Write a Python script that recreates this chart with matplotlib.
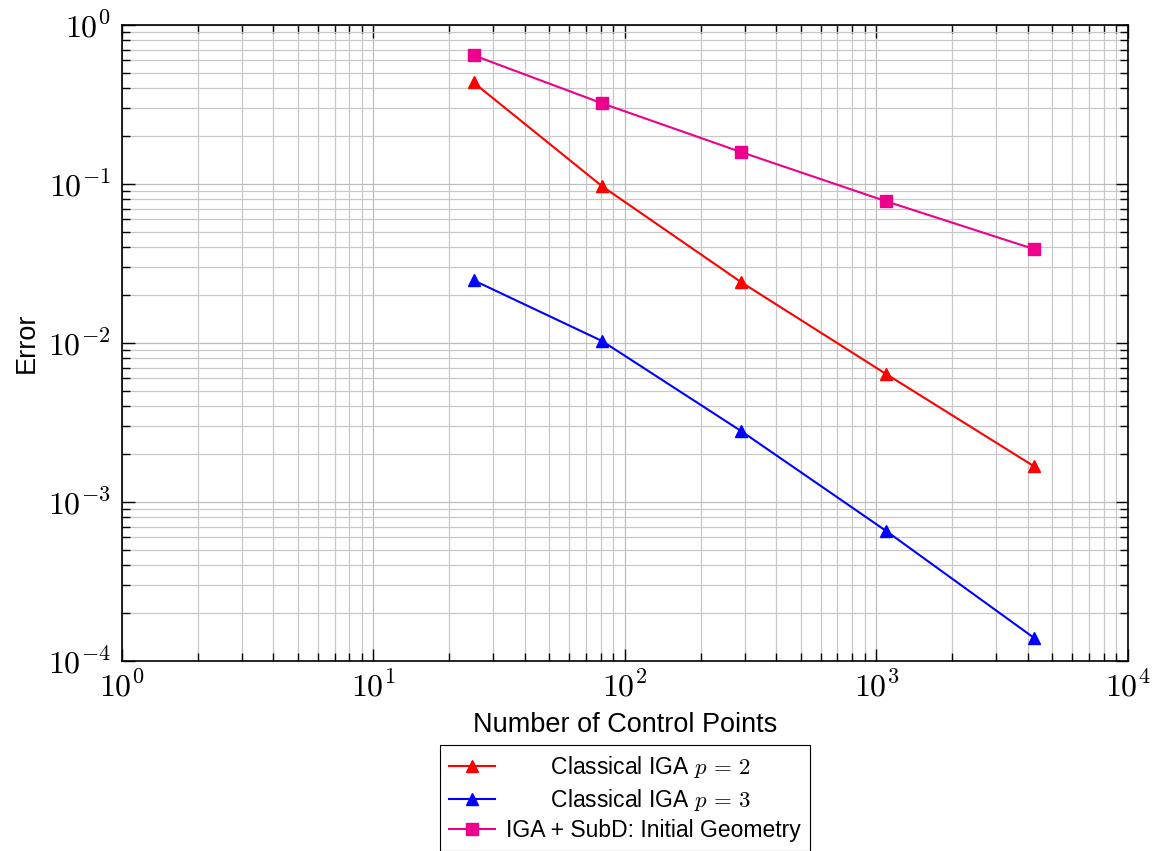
import math
import matplotlib
matplotlib.use("Agg")
import matplotlib.pyplot as plt
from matplotlib.ticker import FuncFormatter, LogLocator, NullFormatter

plt.rcParams['mathtext.fontset'] = 'cm'
plt.rcParams['font.family'] = ['Liberation Sans', 'DejaVu Sans']

control_points = [25, 81, 289, 1089, 4225]
err_p2 = [0.435, 0.097, 0.0242, 0.0064, 0.00168]
err_p3 = [0.0248, 0.0103, 0.0028, 0.00066, 0.00014]
err_subd = [0.645, 0.322, 0.159, 0.078, 0.039]

labels = ['       Classical IGA $p\\,=\\,2$',
          '       Classical IGA $p\\,=\\,3$',
          'IGA + SubD: Initial Geometry']
colors = ['#ff0000', '#0000ff', '#ec008c']

fig = plt.figure(figsize=(11.64, 8.51), dpi=100)
ax = fig.add_axes([0.1048, 0.2233, 0.969 - 0.1048, 0.9706 - 0.2233])

ax.plot(control_points, err_p2, color=colors[0], marker='^', ms=9, lw=1.5, label=labels[0])
ax.plot(control_points, err_p3, color=colors[1], marker='^', ms=9, lw=1.5, label=labels[1])
ax.plot(control_points, err_subd, color=colors[2], marker='s', ms=9, lw=1.5, label=labels[2])

ax.set_xscale('log')
ax.set_yscale('log')
ax.set_xlim(1, 1e4)
ax.set_ylim(1e-4, 1)

fmt = FuncFormatter(lambda v, p: r'$10^{%d}$' % round(math.log10(v)))
ax.xaxis.set_major_locator(LogLocator(base=10, numticks=10))
ax.yaxis.set_major_locator(LogLocator(base=10, numticks=10))
ax.xaxis.set_minor_locator(LogLocator(base=10, subs=range(2, 10), numticks=20))
ax.yaxis.set_minor_locator(LogLocator(base=10, subs=range(2, 10), numticks=20))
ax.xaxis.set_major_formatter(fmt)
ax.yaxis.set_major_formatter(fmt)
ax.xaxis.set_minor_formatter(NullFormatter())
ax.yaxis.set_minor_formatter(NullFormatter())

ax.grid(True, which='major', color='#bdbdbd', lw=0.9)
ax.grid(True, which='minor', color='#c8c8c8', lw=0.9)
ax.set_axisbelow(True)

ax.tick_params(which='both', direction='in', top=True, right=True, labelsize=23, width=1.0)
ax.tick_params(which='major', length=9, pad=8)
ax.tick_params(which='minor', length=6)
for s in ax.spines.values():
    s.set_linewidth(1.2)

ax.set_xlabel('Number of Control Points', fontsize=19.5, labelpad=6)
ax.set_ylabel('Error', fontsize=19.5, labelpad=6)

leg = fig.legend(loc='upper center', bbox_to_anchor=(0.537, 0.1246), fontsize=16.5,
                 fancybox=False, edgecolor='black', framealpha=1, handlelength=2,
                 borderpad=0.4, labelspacing=0.28, handletextpad=0.5, borderaxespad=0)
leg.get_frame().set_linewidth(0.8)

fig.savefig('out.png', dpi=100)
